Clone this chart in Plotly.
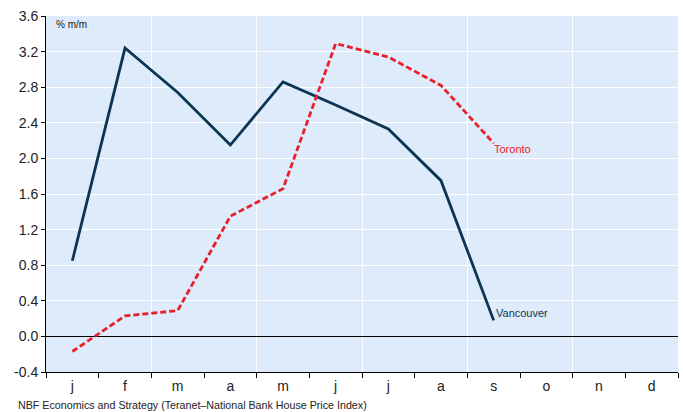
import plotly.graph_objects as go

months = ["j", "f", "m", "a", "m", "j", "j", "a", "s", "o", "n", "d"]
vancouver = [0.85, 3.24, 2.74, 2.15, 2.86, 2.60, 2.33, 1.75, 0.18]
toronto = [-0.17, 0.23, 0.29, 1.35, 1.66, 3.29, 3.14, 2.82, 2.17]
y_ticks = [-0.4, 0.0, 0.4, 0.8, 1.2, 1.6, 2.0, 2.4, 2.8, 3.2, 3.6]

pos = list(range(len(months)))
boundaries = [p - 0.5 for p in pos] + [len(months) - 0.5]
grid_x = [1.5, 3.5, 5.5, 7.5, 9.5]

font = "Liberation Sans, Arial, sans-serif"
van_col = "#0b3552"
tor_col = "#e8202a"

fig = go.Figure()
fig.add_trace(go.Scatter(x=pos[:len(vancouver)], y=vancouver, mode="lines",
                         line=dict(color=van_col, width=2.8), showlegend=False))
fig.add_trace(go.Scatter(x=pos[:len(toronto)], y=toronto, mode="lines",
                         line=dict(color=tor_col, width=2.8, dash="6px,3px"), showlegend=False))
# invisible trace on xaxis2 for labels
fig.add_trace(go.Scatter(x=[pos[0]], y=[None], xaxis="x2", showlegend=False, hoverinfo="skip"))

fig.update_layout(
    width=683, height=412,
    margin=dict(l=46, r=5, t=16, b=40),
    paper_bgcolor="white",
    plot_bgcolor="#ddebfb",
    font=dict(family=font, color="#222222"),
    xaxis=dict(range=[-0.5, 11.5], tickvals=grid_x, showticklabels=False,
               showgrid=True, gridcolor="white", gridwidth=1.2,
               ticks="", showline=True, linecolor="black", linewidth=1,
               minor=dict(tickvals=boundaries, ticks="outside", ticklen=5,
                          tickcolor="black", showgrid=False),
               zeroline=False, fixedrange=True),
    xaxis2=dict(range=[-0.5, 11.5], overlaying="x", side="bottom", anchor="y",
                tickvals=pos, ticktext=months, ticks="", showgrid=False,
                showline=False, zeroline=False, ticklabelstandoff=4,
                tickfont=dict(size=14, color="#222222", family=font)),
    yaxis=dict(range=[-0.4, 3.6], tickvals=y_ticks,
               ticktext=[f"{v:.1f}" for v in y_ticks],
               showgrid=True, gridcolor="white", gridwidth=1.2,
               ticks="outside", ticklen=4, tickcolor="black",
               showline=True, linecolor="black", linewidth=1,
               zeroline=True, zerolinecolor="black", zerolinewidth=1,
               tickfont=dict(size=14, color="#222222", family=font)),
    annotations=[
        dict(text="% m/m", xref="paper", yref="paper", x=0.012, y=0.975,
             xanchor="left", yanchor="middle", showarrow=False,
             font=dict(size=10, color="#222222")),
        dict(text="Toronto", xref="x", yref="y", x=pos[len(toronto) - 1], y=toronto[-1],
             xanchor="left", yanchor="middle", xshift=-2, yshift=-6, showarrow=False,
             font=dict(size=11, color=tor_col)),
        dict(text="Vancouver", xref="x", yref="y", x=pos[len(vancouver) - 1], y=vancouver[-1],
             xanchor="left", yanchor="middle", xshift=0, yshift=7, showarrow=False,
             font=dict(size=11, color=van_col)),
        dict(text="NBF Economics and Strategy (Teranet\u2013National Bank House Price Index)",
             xref="paper", yref="paper", x=-0.047, y=0, yshift=-33,
             xanchor="left", yanchor="middle", showarrow=False,
             font=dict(size=10.7, color="#222222")),
    ],
)

fig.write_html("out.html", config={"displayModeBar": False},
               post_script="document.body.style.margin='0';document.body.style.overflow='hidden';")
